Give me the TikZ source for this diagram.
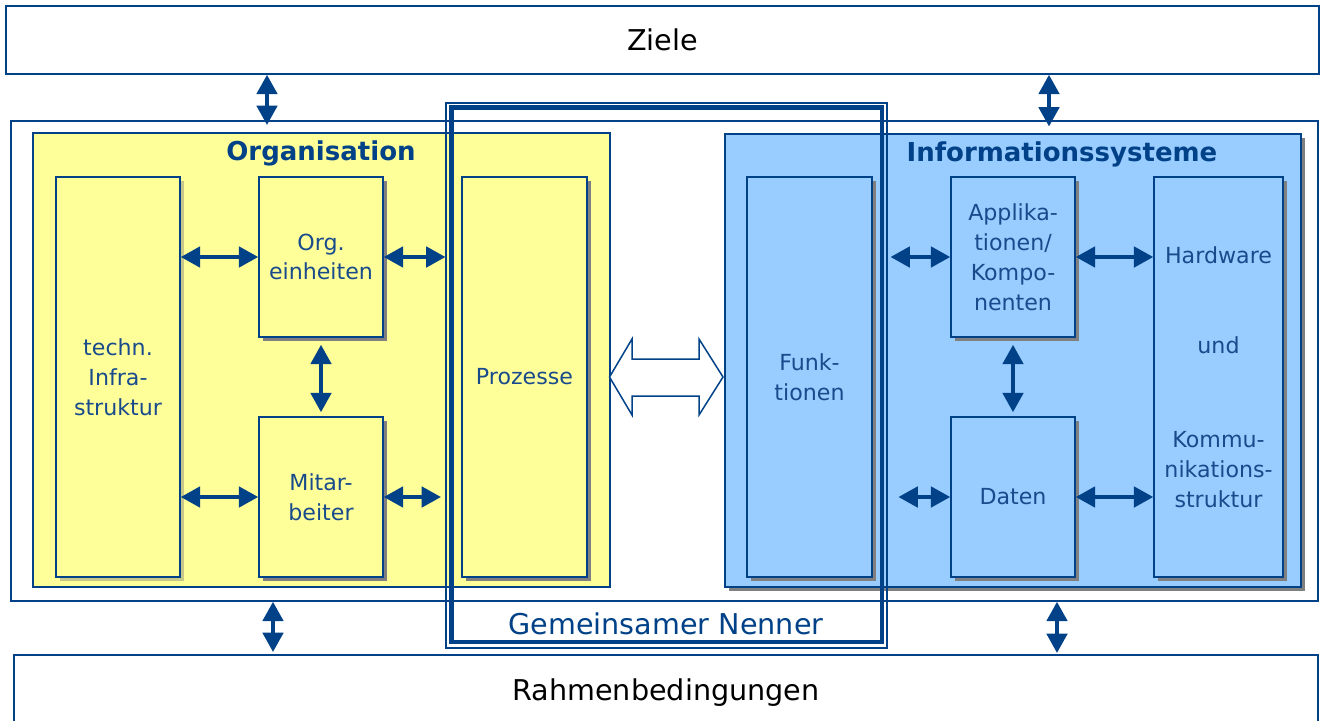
\documentclass[tikz,border=0pt]{standalone}
\usepackage{fontspec}
\setmainfont{DejaVu Sans}
\usetikzlibrary{arrows.meta,fit,shadows}
\definecolor{ink}{RGB}{0,65,135}
\definecolor{txt}{RGB}{25,75,140}
\definecolor{orgfill}{RGB}{255,255,153}
\definecolor{isfill}{RGB}{153,204,255}
\definecolor{shade}{RGB}{128,128,128}
\definecolor{khaki}{RGB}{200,200,140}
\newcommand\bigtxt{\fontsize{16.3}{20}\selectfont}
\newcommand\headtxt{\fontsize{14.8}{18}\selectfont\bfseries}
\newcommand\smalltxt{\fontsize{12.6}{17}\selectfont}
\begin{document}
\begin{tikzpicture}[x=0.02cm,y=-0.02cm,
  frame/.style={draw=ink, line width=0.85pt, inner sep=0pt},
  size/.style 2 args={minimum width=#1*0.02cm, minimum height=#2*0.02cm},
  shadowed/.style={drop shadow={shadow xshift=0.08cm, shadow yshift=-0.08cm, fill=#1, opacity=1}},
  part/.style={frame, fill=#1, text=txt, align=center, font=\smalltxt},
  head/.style={text=ink, font=\headtxt, inner sep=0pt},
  link/.style={draw=ink, line width=2.3pt,
    {Triangle[width=11.5pt,length=11pt]}-{Triangle[width=11.5pt,length=11pt]}},
  hollow/.style={draw=ink, line width=0.85pt, fill=white, line join=miter}]
\useasboundingbox (0,0) rectangle (1324,720);

% goals and framework conditions
\node[frame, size={1313}{68}, font=\bigtxt] (ziele) at (662.5,40) {Ziele};
\node[frame, size={1304}{75}, font=\bigtxt] (rahmen) at (666,692.5) {Rahmenbedingungen};

% middle frame with the two domains
\node[frame, fit={(11,121) (1318,601)}] (mid) {};
\node[frame, fill=orgfill, fit={(33,133) (610,587)}] (org) {};
\node[frame, fill=isfill, shadowed=shade, fit={(725,134) (1301,587)}] (is) {};
\node[head] (orgtitle) at (321,153) {Organisation};
\node[head] (istitle) at (1062,154) {Informationssysteme};

% organisation parts
\node[part=orgfill, shadowed=khaki, size={124}{400}] (techn) at (118,377) {techn.\\Infra-\\struktur};
\node[part=orgfill, shadowed=shade, size={124}{160}] (orgein) at (321,257) {Org.\\einheiten};
\node[part=orgfill, shadowed=shade, size={124}{160}] (mitarb) at (321,497) {Mitar-\\beiter};
\node[part=orgfill, shadowed=shade, size={125}{400}] (proz) at (524.5,377) {Prozesse};

% information system parts
\node[part=isfill, shadowed=shade, size={125}{400}] (funk) at (809.5,377) {Funk-\\tionen};
\node[part=isfill, shadowed=shade, size={124}{160}] (applik) at (1013,257) {Applika-\\tionen/\\Kompo-\\nenten};
\node[part=isfill, shadowed=shade, size={124}{160}] (daten) at (1013,497) {Daten};
\node[part=isfill, shadowed=shade, size={129}{400}] (hw) at (1218.5,377)
  {Hardware\\[34.6pt]und\\[36.3pt]Kommu-\\nikations-\\struktur};

% common denominator frame
\node[draw=ink, line width=0.6pt, inner sep=0pt, fit={(446,103) (887,648)}] (gnout) {};
\node[draw=ink, line width=2.3pt, inner sep=0pt, fit={(451.5,107.5) (882,642)}] (gn) {};
\node[text=ink, font=\bigtxt, inner sep=0pt] (gntext) at (666,624) {Gemeinsamer Nenner};

% hollow double arrow between the domains
\draw[hollow] (609.5,377) -- (632,339) -- (632,359) -- (699,359) -- (699,339)
  -- (723,377) -- (699,415) -- (699,396) -- (632,396) -- (632,415) -- cycle;

% relations inside the organisation
\draw[link] (techn.east |- orgein) -- (orgein.west);
\draw[link] (techn.east |- mitarb) -- (mitarb.west);
\draw[link] (orgein.east) -- (orgein.east -| gnout.west);
\coordinate (mitend) at (441,497);
\draw[link] (mitarb.east) -- (mitend);
\draw[link, shorten <=4pt, shorten >=2.3pt] (orgein.south) -- (mitarb.north);

% relations inside the information systems
\draw[link, shorten <=1.7pt] (gnout.east |- applik) -- (applik.west);
\draw[link] (applik.east) -- (applik.east -| hw.west);
\draw[link, shorten <=4pt, shorten >=2.3pt] (applik.south) -- (daten.north);
\draw[link, shorten <=6.2pt] (gnout.east |- daten) -- (daten.west);
\draw[link] (daten.east) -- (daten.east -| hw.west);

% links to goals and framework conditions
\coordinate (zl) at (267,125);
\coordinate (zr) at (1049,126.5);
\coordinate (rl) at (273,652);
\coordinate (rr) at (1057,653);
\draw[link] (zl |- ziele.south) -- (zl);
\draw[link] (zr |- ziele.south) -- (zr);
\draw[link] (rl |- mid.south) -- (rl);
\draw[link] (rr |- mid.south) -- (rr);
\end{tikzpicture}
\end{document}
